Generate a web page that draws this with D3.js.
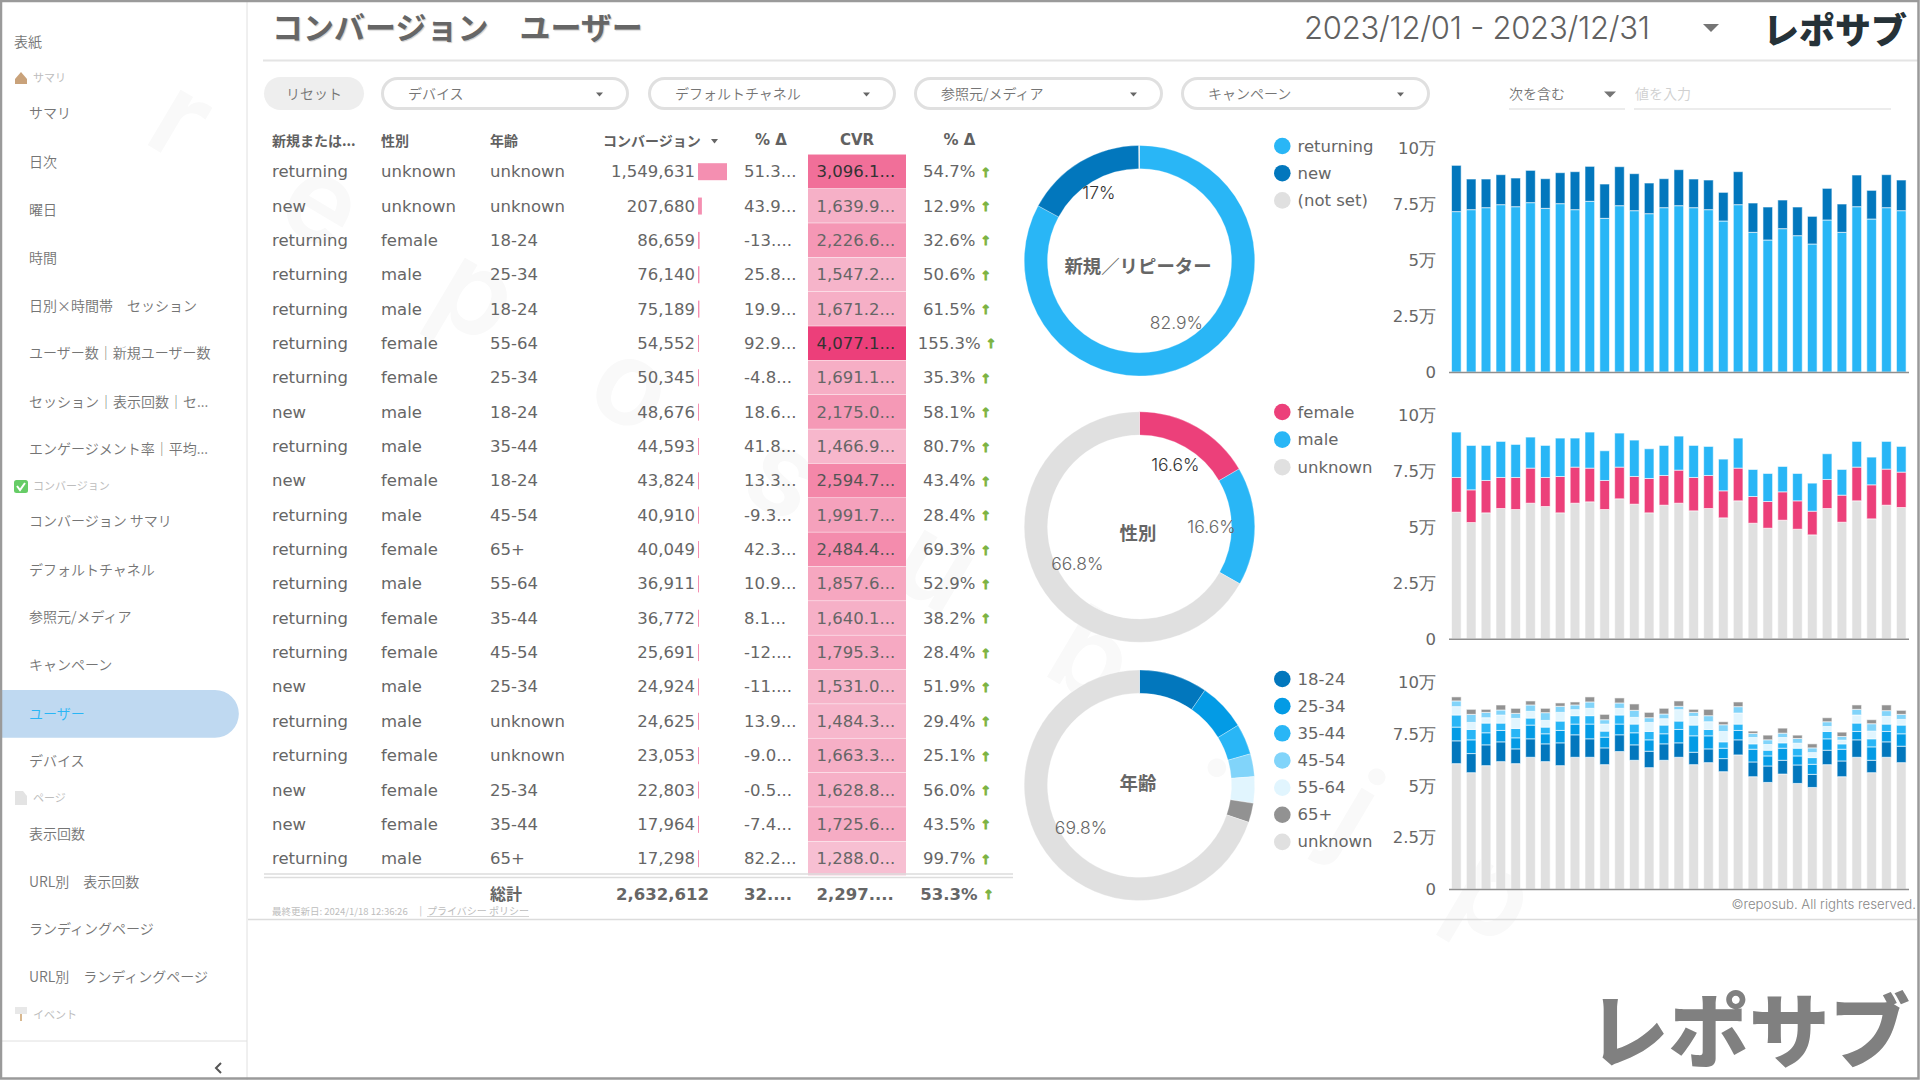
<!DOCTYPE html>
<html lang="ja">
<head>
<meta charset="utf-8">
<title>コンバージョン ユーザー</title>
<script src="https://cdn.jsdelivr.net/npm/d3@7"></script>
<style>
html,body{margin:0;padding:0;background:#fff;overflow:hidden}
svg{display:block}
text{font-family:"DejaVu Sans",sans-serif}
.jp{font-family:"Noto Sans CJK JP","Noto Sans",sans-serif}
.inter{font-family:"Inter","Noto Sans CJK JP",sans-serif}
</style>
</head>
<body>
<svg id="c" width="1920" height="1080" viewBox="0 0 1920 1080"></svg>
<script>
// ---------- sidebar ----------
const navItems = [
  ["表紙",40.8,"top"],["サマリ",77,"sec"],["サマリ",112.3,"item"],["日次",160.8,"item"],["曜日",208.8,"item"],["時間",256.8,"item"],
  ["日別×時間帯　セッション",304.8,"item"],["ユーザー数｜新規ユーザー数",352.3,"item"],["セッション｜表示回数｜セ...",400.8,"item"],
  ["エンゲージメント率｜平均...",448.3,"item"],["コンバージョン",485,"sec"],["コンバージョン サマリ",519.8,"item"],
  ["デフォルトチャネル",568.8,"item"],["参照元/メディア",616.3,"item"],["キャンペーン",664.3,"item"],["ユーザー",712.5,"active"],
  ["デバイス",760.3,"item"],["ページ",797,"sec"],["表示回数",832.8,"item"],["URL別　表示回数",880.8,"item"],
  ["ランディングページ",928.3,"item"],["URL別　ランディングページ",975.8,"item"],["イベント",1013.5,"sec"]
];
// ---------- table ----------
const colUser = ["returning","new","returning","returning","returning","returning","returning","new","returning","new","returning","returning","returning","returning","returning","new","returning","returning","new","new","returning"];
const colGender = ["unknown","unknown","female","male","male","female","female","male","male","female","male","female","male","female","female","male","male","female","female","female","male"];
const colAge = ["unknown","unknown","18-24","25-34","18-24","55-64","25-34","18-24","35-44","18-24","45-54","65+","55-64","35-44","45-54","25-34","unknown","unknown","25-34","35-44","65+"];
const colConv = [1549631,207680,86659,76140,75189,54552,50345,48676,44593,43824,40910,40049,36911,36772,25691,24924,24625,23053,22803,17964,17298];
const colConvDelta = ["51.3...","43.9...","-13....","25.8...","19.9...","92.9...","-4.8...","18.6...","41.8...","13.3...","-9.3...","42.3...","10.9...","8.1...","-12....","-11....","13.9...","-9.0...","-0.5...","-7.4...","82.2..."];
const colCvr = [3096.1,1639.9,2226.6,1547.2,1671.2,4077.1,1691.1,2175.0,1466.9,2594.7,1991.7,2484.4,1857.6,1640.1,1795.3,1531.0,1484.3,1663.3,1628.8,1725.6,1288.0];
const colCvrDelta = ["54.7%","12.9%","32.6%","50.6%","61.5%","155.3%","35.3%","58.1%","80.7%","43.4%","28.4%","69.3%","52.9%","38.2%","28.4%","51.9%","29.4%","25.1%","56.0%","43.5%","99.7%"];
const headers = ["新規または...","性別","年齢","コンバージョン","% Δ","CVR","% Δ"];
const totals = ["総計","2,632,612","32....","2,297....","53.3%"];
// ---------- donuts ----------
const userKeys = ["returning","new","(not set)"];
const userShare = [82.9,17.0,0.1];
const genderKeys = ["female","male","unknown"];
const genderShare = [16.6,16.6,66.8];
const ageKeys = ["18-24","25-34","35-44","45-54","55-64","65+","unknown"];
const ageShare = [9.6,6.7,4.3,3.2,3.7,2.7,69.8];
const colors = {"returning":"#29b6f6","new":"#0277bd","(not set)":"#e0e0e0","female":"#ec407a","male":"#29b6f6","unknown":"#e0e0e0",
  "18-24":"#0277bd","25-34":"#039be5","35-44":"#29b6f6","45-54":"#81d4fa","55-64":"#e1f5fe","65+":"#929292"};
// ---------- daily bars ----------
const days = d3.range(1,32);
const dailyReturning = [71600,72470,73360,74700,73800,75600,73060,75150,72470,76190,68600,74250,72020,70680,73360,74250,73360,72470,67410,74700,62350,58930,63990,60860,57140,67860,62350,73800,68300,73360,72020];
const dailyNew = [20660,13690,12800,13390,12800,14420,13240,13830,16960,15620,15320,17410,16520,13690,12940,16070,12800,13240,12790,14730,13090,14730,12790,12800,12350,14130,12650,14140,12800,14730,13690];
const dailyGenderUnknown = [56480,51860,56180,58120,57670,60500,59010,56180,60500,61100,57670,62440,60060,56180,59610,60500,57080,58120,53950,61550,51560,49330,52900,48880,46350,58120,52010,61550,53500,59610,58570];
const dailyFemale = [15500,14600,14460,13860,14310,15650,12970,16240,16100,15050,12970,14160,12370,15350,13260,14750,14900,14750,12070,14600,11920,11920,12670,12670,10580,12970,12070,15050,15200,16100,15800];
const dailyMale = [20270,19820,15650,16100,14750,13860,14310,17140,12970,16100,13260,15200,16240,13260,13410,15200,14310,12970,14160,13410,12070,12520,11330,12220,12520,11480,11480,11480,12370,12370,11480];
const dailyAgeUnknown = [60420,56060,59450,61390,60420,63490,61390,59450,63490,63490,59930,66240,62040,58480,62040,63490,59930,60900,56540,64620,54120,51370,55410,50890,48950,59930,54120,63490,56060,63490,60900];
const daily1824 = [10990,9210,10020,9530,7110,8890,8560,10990,10820,8890,8080,8080,7430,7920,7920,6950,5980,6620,6300,7270,7110,7920,6620,8890,6300,6950,7590,8400,5980,7430,7920];
const daily2534 = [6620,6620,5820,5490,5330,6620,4850,5980,5170,7110,5170,5170,5820,5490,4850,6460,7920,6300,5010,4520,6140,4850,5820,4360,4850,5490,5650,4040,6460,5010,5980];
const daily3544 = [5820,5010,4680,3550,4520,3390,3230,4520,4040,4040,2910,4360,4200,4040,4200,4040,5170,3070,3070,3070,2580,2750,2580,3720,3230,3550,2580,4040,3880,3550,4200];
const daily5564 = [4040,3390,2580,3880,4850,3230,3230,4200,2910,3550,3390,3230,3230,4360,3070,5490,4200,3720,5010,5330,3070,2750,2580,2420,2420,2420,1780,3880,3720,3720,2750];
const daily4554 = [2750,3880,2580,2420,2420,3070,3720,2910,2260,3070,2100,2580,3390,2260,2260,1620,1940,2910,3230,3070,1940,2260,2100,2260,2260,2260,1780,2750,3550,2750,2420];
const daily65 = [1940,2420,1450,2420,2420,1940,2100,1620,1450,2420,2580,2420,3070,2580,2750,2580,1450,3070,1450,2260,1130,2260,2420,1620,1940,1940,2100,2100,1940,2750,1940];
const tickValues = [0,25000,50000,75000,100000];
const tickLabels = ["0","2.5万","5万","7.5万","10万"];

const svg = d3.select("#c");
const T = (g,x,y,s,o={})=>{
  const t = g.append("text").attr("x",x).attr("y",y).text(s)
    .attr("dominant-baseline","central")
    .attr("font-size",o.size||16.5).attr("fill",o.fill||"#666");
  if(o.cls) t.attr("class",o.cls);
  if(o.anchor) t.attr("text-anchor",o.anchor);
  if(o.weight) t.attr("font-weight",o.weight);
  return t;
};

// watermark
svg.append("text").attr("transform","translate(163,104) rotate(30.6)")
  .attr("class","inter").attr("font-size",118).attr("font-weight",600)
  .attr("letter-spacing",108).attr("fill","#f9f9f9").attr("dominant-baseline","central").text("reposub.jp");

// sidebar
const side = svg.append("g");
side.append("line").attr("x1",247).attr("x2",247).attr("y1",0).attr("y2",1080).attr("stroke","#e0e0e0").attr("stroke-width",1);
side.append("line").attr("x1",2).attr("x2",247).attr("y1",1041).attr("y2",1041).attr("stroke","#e0e0e0");
side.append("path").attr("d","M2,690H215a23.8,23.8 0 0 1 0,47.7H2Z").attr("fill","#bfd9f1");
navItems.forEach(([s,y,k])=>{
  if(k==="sec") T(side,33,y,s,{size:11,fill:"#bdbdbd",cls:"jp"});
  else T(side,k==="top"?14:29,y,s,{size:14,fill:k==="active"?"#29b6f6":"#757575",cls:"jp",weight:350});
});
// section icons
side.append("path").attr("d","M15,79L21,72L27,79V84H15Z").attr("fill","#c9a27a");
side.append("rect").attr("x",14).attr("y",480).attr("width",14).attr("height",13).attr("rx",2.5).attr("fill","#66cc66");
side.append("path").attr("d","M17,486L20,490L25,483").attr("fill","none").attr("stroke","#fff").attr("stroke-width",2);
side.append("path").attr("d","M15,791H23L27,796V805H15Z").attr("fill","#e3e3e3");
side.append("rect").attr("x",15).attr("y",1007).attr("width",12).attr("height",7).attr("fill","#e8e8e8");
side.append("rect").attr("x",20).attr("y",1014).attr("width",2).attr("height",7).attr("fill","#d8b890");
side.append("path").attr("d","M221,1063L216,1068L221,1073").attr("fill","none").attr("stroke","#555").attr("stroke-width",2);

// header
const head = svg.append("g");
T(head,272,25,"コンバージョン　ユーザー",{size:31,weight:700,cls:"jp",fill:"#666"}).style("text-shadow","1px 1px 1px #ccc");
T(head,1304,27,"2023/12/01 - 2023/12/31",{size:31,cls:"inter",fill:"#616161"}).attr("font-weight",300).attr("textLength",346);
head.append("path").attr("d","M1703,24H1719L1711,32Z").attr("fill","#757575");
T(head,1763,28,"レポサブ",{size:36,weight:900,cls:"jp",fill:"#263238"});
head.append("line").attr("x1",263).attr("x2",1918).attr("y1",60.5).attr("y2",60.5).attr("stroke","#e4e4e4").attr("stroke-width",2);

// filters
const filt = svg.append("g");
filt.append("rect").attr("x",264).attr("y",77).attr("width",100).attr("height",33).attr("rx",16.5).attr("fill","#eeeeee");
T(filt,314,93,"リセット",{size:14,cls:"jp",fill:"#757575",anchor:"middle",weight:350});
[["デバイス",381,629],["デフォルトチャネル",648,896],["参照元/メディア",914,1163],["キャンペーン",1181,1430]].forEach(([s,a,b])=>{
  filt.append("rect").attr("x",a+1.5).attr("y",78.5).attr("width",b-a-3).attr("height",30).attr("rx",15).attr("fill","#fff").attr("stroke","#e0e0e0").attr("stroke-width",3);
  T(filt,a+27,93,s,{size:14,cls:"jp",fill:"#757575",weight:350});
  filt.append("path").attr("d",`M${b-33},92.5h7l-3.5,4z`).attr("fill","#666");
});
T(filt,1509,93,"次を含む",{size:14,cls:"jp",fill:"#757575",weight:350});
filt.append("path").attr("d","M1604,91.5h12l-6,6z").attr("fill","#757575");
T(filt,1635,93,"値を入力",{size:14,cls:"jp",fill:"#d0d0d0",weight:350});
filt.append("line").attr("x1",1509).attr("x2",1625).attr("y1",109).attr("y2",109).attr("stroke","#e6e6e6").attr("stroke-width",1.5);
filt.append("line").attr("x1",1634).attr("x2",1891).attr("y1",109).attr("y2",109).attr("stroke","#e6e6e6").attr("stroke-width",1.5);

// table
const tbl = svg.append("g");
const rowY = d3.scalePoint().domain(d3.range(colUser.length)).range([171.7,858.7]);
const convW = d3.scaleLinear().domain([0,1549631]).range([0,29]);
const cvrColor = d3.scaleLinear().domain([1288,2600,4077.1]).range(["#f7bfd2","#f487a9","#ec3f7a"]);
const fmt = d3.format(",");
const fmtCvr = d3.format(",.1f");
const hdrOpts = {size:14,weight:700,cls:"jp",fill:"#616161"};
T(tbl,272,139.5,headers[0],hdrOpts);
T(tbl,381,139.5,headers[1],hdrOpts);
T(tbl,490,139.5,headers[2],hdrOpts);
T(tbl,603,139.5,headers[3],hdrOpts);
tbl.append("path").attr("d","M711,139h7l-3.5,4.5z").attr("fill","#666");
T(tbl,771,140,headers[4],{...hdrOpts,size:15,anchor:"middle",cls:""});
T(tbl,857,140,headers[5],{...hdrOpts,size:15,anchor:"middle",cls:""});
T(tbl,959.5,140,headers[6],{...hdrOpts,size:15,anchor:"middle",cls:""});
const rowH = rowY(1)-rowY(0);
tbl.selectAll("rect.cvr").data(colCvr).join("rect").attr("class","cvr")
  .attr("x",808).attr("width",98).attr("y",(d,i)=>rowY(i)-rowH/2).attr("height",rowH-0.5)
  .attr("fill",d=>cvrColor(d));
tbl.selectAll("rect.conv").data(colConv).join("rect").attr("class","conv")
  .attr("x",698).attr("y",(d,i)=>rowY(i)-8.5).attr("height",17).attr("width",d=>Math.max(1,convW(d)))
  .attr("fill","#f48fb1");
const arrow = t => t.append("tspan").attr("fill","#7cb342").attr("stroke","#7cb342").attr("stroke-width",0.9)
  .attr("font-size",12.5).attr("font-weight",700).text("↑");
colUser.forEach((u,i)=>{
  const y = rowY(i);
  T(tbl,272,y,u); T(tbl,381,y,colGender[i]); T(tbl,490,y,colAge[i]);
  T(tbl,695,y,fmt(colConv[i]),{anchor:"end"});
  T(tbl,744,y,colConvDelta[i]);
  T(tbl,816.5,y,fmtCvr(colCvr[i])+"...",{fill:colCvr[i]>3000?"#333":colCvr[i]>2400?"#555":"#666"});
  arrow(T(tbl,957,y,colCvrDelta[i]+" ",{anchor:"middle"}));
});
tbl.append("line").attr("x1",264).attr("x2",1013).attr("y1",874).attr("y2",874).attr("stroke","#ddd").attr("stroke-width",1.5);
tbl.append("line").attr("x1",264).attr("x2",1013).attr("y1",877.5).attr("y2",877.5).attr("stroke","#ddd").attr("stroke-width",1.5);
T(tbl,490,893,totals[0],{size:16,weight:700,cls:"jp"});
T(tbl,709,894,totals[1],{anchor:"end",weight:700});
T(tbl,744,894,totals[2],{weight:700});
T(tbl,816.5,894,totals[3],{weight:700});
arrow(T(tbl,957,894,totals[4]+" ",{anchor:"middle",weight:700}));
T(tbl,272,911,"最終更新日: 2024/1/18 12:36:26",{size:9.5,cls:"jp",fill:"#bdbdbd"});
T(tbl,419,910.5,"|",{size:10,fill:"#ccc"});
T(tbl,427,910.5,"プライバシー ポリシー",{size:10,cls:"jp",fill:"#bdbdbd"});
tbl.append("line").attr("x1",427).attr("x2",529).attr("y1",916.5).attr("y2",916.5).attr("stroke","#c8c8c8").attr("stroke-width",0.8);
svg.append("line").attr("x1",248).attr("x2",1917).attr("y1",919.5).attr("y2",919.5).attr("stroke","#dcdcdc").attr("stroke-width",1.5);

// donuts
const pie = d3.pie().sort(null).value(d=>d.v).startAngle(0).endAngle(2*Math.PI);
const arc = d3.arc().innerRadius(92).outerRadius(115.3);
const labelR = d => d.data.k==="new" ? 79 : 72;
const labelArc = d3.arc().innerRadius(labelR).outerRadius(labelR);
function donut(cy,keys,vals,title,titleY,hide,dark){
  const g = svg.append("g").attr("transform",`translate(1139.5,${cy})`);
  const data = pie(keys.map((k,i)=>({k,v:vals[i]})));
  g.selectAll("path").data(data).join("path").attr("d",arc)
    .attr("fill",d=>colors[d.data.k]).attr("stroke","#fff").attr("stroke-width",0.3);
  data.forEach(d=>{
    if(d.data.v<hide) return;
    const [x,y]=labelArc.centroid(d);
    T(g,x,y,(d.data.v===17?"17":d.data.v)+"%",{size:17.5,cls:"inter",anchor:"middle",fill:dark.includes(d.data.k)?"#333":"#666"}).attr("font-weight",300);
  });
  T(g,-1.5,titleY-cy,title,{size:18.4,weight:700,cls:"jp",anchor:"middle",fill:"#666"});
}
donut(260.7,userKeys,userShare,"新規／リピーター",265,5,["new"]);
donut(527,genderKeys,genderShare,"性別",531.5,5,["female"]);
donut(785.3,ageKeys,ageShare,"年齢",782.3,10,[]);

// legends
function legend(y0,keys,step){
  const g = svg.append("g");
  const s = d3.scalePoint().domain(keys).range([y0,y0+step*(keys.length-1)]);
  g.selectAll("circle").data(keys).join("circle").attr("cx",1282.3).attr("cy",d=>s(d)).attr("r",8.3).attr("fill",d=>colors[d]);
  keys.forEach(k=>T(g,1297.5,s(k),k,{size:16.5}));
}
legend(146,userKeys,27.2);
legend(412,genderKeys,27.6);
legend(679,ageKeys,27.15);

// stacked bar charts
const x = d3.scaleBand().domain(days).range([1449,1908.6]).paddingInner(0.35).paddingOuter(0.17);
function bars(base,top,series,keys){
  const y = d3.scaleLinear().domain([0,100000]).range([base,top]);
  const g = svg.append("g");
  const rows = days.map((d,i)=>{const o={day:d};keys.forEach((k,j)=>o[k]=series[j][i]);return o;});
  const stack = d3.stack().keys(keys)(rows);
  const layer = g.selectAll("g.l").data(stack).join("g").attr("class","l")
    .attr("fill",d=>colors[d.key]);
  layer.selectAll("rect").data(d=>d).join("rect")
    .attr("x",d=>x(d.data.day)).attr("width",x.bandwidth())
    .attr("y",d=>y(d[1])).attr("height",d=>y(d[0])-y(d[1]))
    .attr("stroke","#fff").attr("stroke-opacity",0.6).attr("stroke-width",1);
  const ax = svg.append("g").attr("transform","translate(1449,0)")
    .call(d3.axisLeft(y).tickValues(tickValues).tickSize(0).tickPadding(13).tickFormat((d,i)=>tickLabels[i]));
  ax.select(".domain").remove();
  ax.selectAll("text").attr("font-size",16.5).attr("fill","#666").attr("font-family",'"DejaVu Sans"').attr("dy","0.35em");
  svg.append("line").attr("x1",1449).attr("x2",1909).attr("y1",base+0.5).attr("y2",base+0.5).attr("stroke","#8f8f8f").attr("stroke-width",1.5);
}
bars(372,148,[dailyReturning,dailyNew],["returning","new"]);
bars(638.7,414.7,[dailyGenderUnknown,dailyFemale,dailyMale],["unknown","female","male"]);
bars(889,681.5,[dailyAgeUnknown,daily1824,daily2534,daily3544,daily5564,daily4554,daily65],["unknown","18-24","25-34","35-44","55-64","45-54","65+"]);

T(svg,1916,904,"©reposub. All rights reserved.",{size:13.2,cls:"inter",fill:"#888",anchor:"end"}).attr("font-weight",300);

// bottom logo
T(svg,1588,1026,"レポサブ",{size:80.5,weight:900,cls:"jp",fill:"#808080"});

// frame
svg.append("rect").attr("x",1).attr("y",1).attr("width",1917.5).attr("height",1077.5).attr("fill","none").attr("stroke","#9a9a9a").attr("stroke-width",2.5);
</script>
</body>
</html>
